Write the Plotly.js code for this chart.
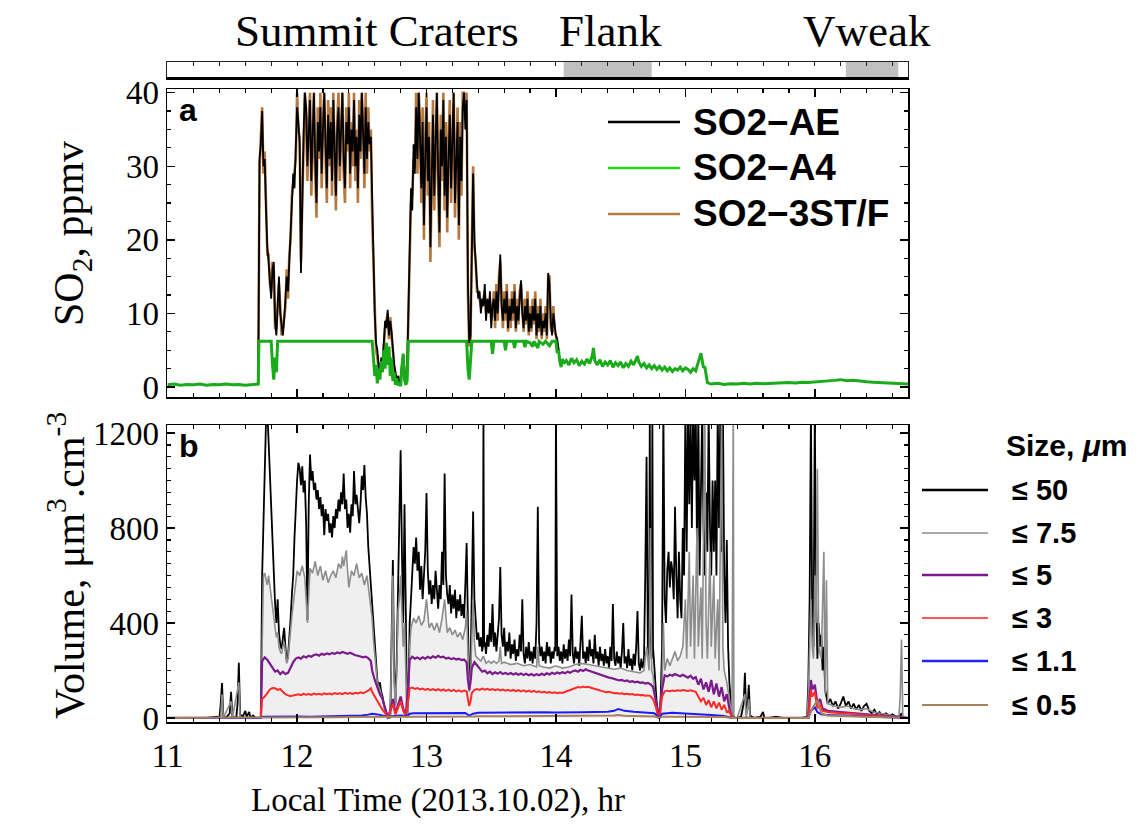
<!DOCTYPE html>
<html><head><meta charset="utf-8">
<script src="https://cdn.plot.ly/plotly-3.0.1.min.js"></script>
<style>html,body{margin:0;padding:0;background:#fff}#chart{width:1141px;height:838px}</style>
</head><body><div id="chart"></div>
<script>
// ---------- Panel a: SO2 (ppmv) ----------
const so2Names = ["SO2\u2212AE", "SO2\u2212A4", "SO2\u22123ST/F"];
const so2Time = [
11.70,11.71,11.72,11.73,11.74,11.75,11.76,11.77,11.78,11.79,
11.80,11.81,11.82,11.83,11.84,11.85,11.86,11.87,11.88,11.89,
11.90,11.91,11.92,11.93,11.94,11.95,11.96,11.97,11.98,11.99,
12.00,12.01,12.02,12.03,12.04,12.05,12.06,12.07,12.08,12.09,
12.10,12.11,12.12,12.13,12.14,12.15,12.16,12.17,12.18,12.19,
12.20,12.21,12.22,12.23,12.24,12.25,12.26,12.27,12.28,12.29,
12.30,12.31,12.32,12.33,12.34,12.35,12.36,12.37,12.38,12.39,
12.40,12.41,12.42,12.43,12.44,12.45,12.46,12.47,12.48,12.49,
12.50,12.51,12.52,12.53,12.54,12.55,12.56,12.57,12.58,12.59,
12.60,12.61,12.62,12.63,12.64,12.65,12.66,12.67,12.68,12.69,
12.70,12.71,12.72,12.73,12.74,12.75,12.76,12.77,12.78,12.79,
12.80,12.81,12.82,12.83,12.84,12.85,12.86,12.87,12.88,12.89,
12.90,12.91,12.92,12.93,12.94,12.95,12.96,12.97,12.98,12.99,
13.00,13.01,13.02,13.03,13.04,13.05,13.06,13.07,13.08,13.09,
13.10,13.11,13.12,13.13,13.14,13.15,13.16,13.17,13.18,13.19,
13.20,13.21,13.22,13.23,13.24,13.25,13.26,13.27,13.28,13.29,
13.30,13.31,13.32,13.33,13.34,13.35,13.36,13.37,13.38,13.39,
13.40,13.41,13.42,13.43,13.44,13.45,13.46,13.47,13.48,13.49,
13.50,13.51,13.52,13.53,13.54,13.55,13.56,13.57,13.58,13.59,
13.60,13.61,13.62,13.63,13.64,13.65,13.66,13.67,13.68,13.69,
13.70,13.71,13.72,13.73,13.74,13.75,13.76,13.77,13.78,13.79,
13.80,13.81,13.82,13.83,13.84,13.85,13.86,13.87,13.88,13.89,
13.90,13.91,13.92,13.93,13.94,13.95,13.96,13.97,13.98,13.99,
14.00,14.01,14.02];
const so2AE = [
0.5,31,33,37.5,30,31,24,19,17,15,
12,16,17,9,7,11,15,10,8,7,
9,12,15,13,17,21,24,29,27,32,
38,36,33,15.5,27,34,40,38,30,35,
39,28,33,40,31,25,36,32,38,29,
35,40,33,27,37,31,36,28,39,33,
26,35,38,30,34,40,31,27,36,33,
38,29,35,32,39,30,34,27,37,32,
40,35,29,38,31,36,33,34,25,18,
10,6,5,3,2,4,3,6,9,8,
10.5,7,9,7.5,5,3,2,1,1.5,0.5,
1,3,4.5,2,1,2,10,19,27,24,
33,29,38,31,40,34,27,36,22,31,
38,28,34,19,30,37,26,33,40,29,
21,35,30,39,26,34,23,31,37,27,
33,40,25,30,36,22,34,28,38,40,
35,39,14,6,7,18,29,20,16,14,
12,13,10,12,11,14,9,12,10,13,
8,11,12,9,13,10,14,18,11,9,
12,10,13,8,11,9,12,10,13,8,
11,9,12,14.5,10,8,11,9,12,7.5,
10,8,11,9,12,7,10,8,11,7,
9,8,10,7,15.5,14,9,7,10,8,
7,6.5,5];
const so2ST = [
0.5,30,34,38,29,32,25,18,18,14,
13,17,16,8,8,12,14,11,7,8,
10,11,16,12,18,20,26,28,29,31,
40,35,34,17,25,35,40,36,28,37,
40,26,34,40,29,23,38,31,40,27,
36,40,31,25,39,30,38,26,40,32,
24,36,40,28,35,40,29,25,38,32,
40,27,36,30,40,28,35,25,39,31,
40,36,27,40,29,38,32,35,23,17,
9,5,4,2.5,2,3.5,3,5.5,8,9,
10,6.5,9.5,7,4.5,3,1.5,1,1.5,0.5,
1,2.5,4,2,1,2,9,20,25,26,
31,30,40,29,40,36,25,38,20,33,
40,26,36,17,31,39,24,35,40,27,
19,37,28,40,24,36,21,33,39,25,
35,40,23,32,38,20,36,26,40,40,
37,40,13,5.5,6.5,19,30,19,17,13,
13,12,11,11,12,13,10,11,11,12,
9,10,13,8,14,9,15,17,12,8,
13,9,14,7.5,12,8,13,9,14,7.5,
12,8.5,13,14,11,7.5,12,8.5,13,7,
11,7.5,12,8.5,13,6.5,11,7.5,12,6.5,
10,7.5,11,6.5,15,15,8,7.5,11,7.5,
7,6,5];
const a4Time = [
11.00,11.05,11.10,11.15,11.20,11.25,11.30,11.35,11.40,11.45,
11.50,11.55,11.60,11.65,11.70,11.705,11.80,11.81,11.82,11.83,
11.84,11.85,12.58,12.59,12.60,12.61,12.62,12.63,12.64,12.65,
12.66,12.67,12.68,12.69,12.70,12.71,12.72,12.73,12.74,12.75,
12.76,12.77,12.78,12.79,12.80,12.81,12.82,12.83,12.84,12.85,
12.86,13.31,13.32,13.33,13.34,13.35,13.50,13.51,13.52,13.60,
13.61,13.62,13.67,13.68,13.69,13.75,13.76,13.77,13.80,13.82,
13.83,13.86,13.87,13.90,13.92,13.95,13.97,14.00,14.01,14.02,
14.03,14.04,14.05,14.06,14.08,14.10,14.12,14.14,14.16,14.18,
14.20,14.22,14.24,14.26,14.28,14.29,14.30,14.32,14.34,14.36,
14.38,14.40,14.42,14.44,14.46,14.48,14.50,14.52,14.54,14.56,
14.58,14.60,14.62,14.63,14.64,14.66,14.68,14.70,14.72,14.74,
14.76,14.78,14.80,14.82,14.84,14.86,14.88,14.90,14.92,14.94,
14.96,14.98,15.00,15.02,15.04,15.06,15.08,15.10,15.11,15.12,
15.13,15.14,15.15,15.16,15.17,15.20,15.25,15.30,15.35,15.40,
15.45,15.50,15.55,15.60,15.65,15.70,15.75,15.80,15.85,15.90,
15.95,16.00,16.05,16.10,16.15,16.20,16.25,16.30,16.35,16.40,
16.45,16.50,16.55,16.60,16.65,16.70,16.72];
const a4Values = [
0.3,0.4,0.25,0.35,0.3,0.4,0.25,0.35,0.3,0.4,
0.3,0.35,0.25,0.35,0.4,6.2,6.2,3,1,4,
2,6.2,6.2,4,1.5,3,0.5,2.5,1,3.5,
2,5,2.5,6,3,5.5,1.5,4,0.8,2,
0.3,1.2,0.2,0.6,0.1,2.8,4.5,1.0,0.3,0.8,
6.2,6.2,2.5,1.0,3.5,6.2,6.2,4.5,6.2,6.2,
5.0,6.2,6.2,5.3,6.2,6.2,5.4,6.2,6.0,5.5,
6.2,5.3,6.2,5.8,6.2,5.6,6.2,6.2,4.6,5.0,
3.5,2.7,3.8,3.2,3.6,3.0,3.9,3.3,3.7,2.9,
3.5,3.1,3.8,3.2,4.2,5.3,3.6,3.0,3.7,2.8,
3.4,3.0,3.6,2.7,3.3,2.9,3.4,2.6,3.2,2.8,
3.5,3.0,3.8,4.2,3.4,2.8,3.2,2.6,3.0,2.5,
2.9,2.4,2.8,2.3,2.7,2.2,2.6,2.1,2.5,2.3,
2.7,2.2,2.6,2.4,2.0,2.5,2.2,3.2,4.0,4.6,
3.4,2.6,2.8,1.5,0.6,0.4,0.5,0.35,0.45,0.4,
0.5,0.4,0.5,0.45,0.5,0.55,0.5,0.6,0.55,0.65,
0.6,0.7,0.75,0.8,0.9,1.0,0.85,0.9,0.75,0.7,
0.65,0.6,0.55,0.5,0.45,0.4,0.4];

// ---------- Panel b: aerosol volume (um3/cm3) ----------
const sizeNames = ["\u2264 50", "\u2264 7.5", "\u2264 5", "\u2264 3", "\u2264 1.1", "\u2264 0.5"];
const vol50Time = [
11.00,11.10,11.20,11.30,11.38,11.40,11.41,11.42,11.43,11.45,
11.48,11.49,11.50,11.53,11.54,11.55,11.56,11.58,11.60,11.61,
11.63,11.64,11.66,11.68,11.70,11.72,11.73,11.74,11.75,11.76,
11.77,11.78,11.79,11.80,11.81,11.82,11.83,11.84,11.85,11.86,
11.87,11.88,11.89,11.90,11.91,11.92,11.93,11.94,11.95,11.96,
11.97,11.98,11.99,12.00,12.01,12.02,12.03,12.04,12.05,12.06,
12.07,12.08,12.09,12.10,12.11,12.12,12.13,12.14,12.15,12.16,
12.17,12.18,12.19,12.20,12.21,12.22,12.23,12.24,12.25,12.26,
12.27,12.28,12.29,12.30,12.31,12.32,12.33,12.34,12.35,12.36,
12.37,12.38,12.39,12.40,12.41,12.42,12.43,12.44,12.45,12.46,
12.47,12.48,12.49,12.50,12.51,12.52,12.53,12.54,12.55,12.56,
12.57,12.58,12.59,12.60,12.61,12.62,12.63,12.64,12.65,12.66,
12.67,12.68,12.69,12.70,12.71,12.72,12.73,12.74,12.75,12.76,
12.77,12.78,12.79,12.80,12.81,12.82,12.83,12.84,12.85,12.86,
12.87,12.88,12.89,12.90,12.91,12.92,12.93,12.94,12.95,12.96,
12.97,12.98,12.99,13.00,13.01,13.02,13.03,13.04,13.05,13.06,
13.07,13.08,13.09,13.10,13.11,13.12,13.13,13.14,13.15,13.16,
13.17,13.18,13.19,13.20,13.21,13.22,13.23,13.24,13.25,13.26,
13.27,13.28,13.29,13.30,13.31,13.32,13.33,13.34,13.35,13.36,
13.37,13.38,13.39,13.40,13.41,13.42,13.43,13.435,13.44,13.445,
13.45,13.46,13.47,13.48,13.49,13.50,13.51,13.52,13.53,13.54,
13.55,13.56,13.57,13.58,13.59,13.60,13.61,13.62,13.63,13.64,
13.65,13.66,13.67,13.68,13.69,13.70,13.71,13.72,13.73,13.74,
13.75,13.76,13.77,13.78,13.79,13.80,13.81,13.82,13.83,13.84,
13.85,13.86,13.87,13.88,13.89,13.90,13.91,13.92,13.93,13.94,
13.95,13.96,13.97,13.98,13.99,13.995,14.00,14.005,14.01,14.02,
14.03,14.04,14.05,14.06,14.07,14.08,14.09,14.10,14.11,14.12,
14.13,14.14,14.15,14.16,14.17,14.18,14.19,14.20,14.21,14.22,
14.23,14.24,14.25,14.26,14.27,14.28,14.29,14.30,14.31,14.32,
14.33,14.34,14.35,14.36,14.37,14.38,14.39,14.40,14.41,14.42,
14.43,14.44,14.45,14.46,14.47,14.48,14.49,14.50,14.51,14.52,
14.53,14.54,14.55,14.56,14.57,14.58,14.59,14.60,14.61,14.62,
14.63,14.64,14.65,14.66,14.67,14.68,14.69,14.70,14.71,14.72,
14.725,14.73,14.74,14.745,14.75,14.76,14.77,14.78,14.79,14.80,
14.81,14.82,14.83,14.84,14.85,14.86,14.87,14.88,14.89,14.90,
14.91,14.92,14.93,14.94,14.95,14.96,14.97,14.98,14.99,15.00,
15.01,15.02,15.03,15.04,15.05,15.06,15.07,15.08,15.09,15.10,
15.11,15.12,15.13,15.14,15.15,15.16,15.17,15.18,15.19,15.20,
15.21,15.22,15.23,15.24,15.25,15.26,15.27,15.28,15.29,15.30,
15.31,15.32,15.33,15.34,15.35,15.36,15.37,15.38,15.40,15.43,
15.45,15.46,15.47,15.48,15.49,15.50,15.53,15.58,15.60,15.61,
15.65,15.70,15.75,15.80,15.85,15.90,15.94,15.95,15.96,15.97,
15.98,15.99,16.00,16.01,16.02,16.03,16.04,16.05,16.06,16.07,
16.08,16.09,16.10,16.12,16.14,16.16,16.18,16.20,16.22,16.24,
16.26,16.28,16.30,16.32,16.34,16.36,16.38,16.40,16.42,16.44,
16.46,16.48,16.50,16.52,16.55,16.58,16.60,16.63,16.66,16.67,
16.68,16.70,16.72];
const vol50 = [
0,0,2,0,5,0,60,147,10,0,
20,110,5,0,60,232,15,5,30,5,
25,0,10,0,0,5,600,800,1000,1250,
1300,1150,1000,850,740,600,480,400,500,360,
310,290,350,380,300,240,260,330,420,520,
600,760,900,1000,1075,1050,980,1060,950,1000,
820,413,900,1110,1000,1040,960,990,920,960,
880,930,850,900,770,880,830,860,780,820,
760,850,800,880,840,920,870,950,900,1030,
880,920,800,860,780,900,850,1040,900,940,
880,820,900,1020,960,1065,930,860,720,640,
560,500,380,300,220,160,130,150,110,92,
60,30,10,0,5,0,300,665,200,60,
250,600,900,1128,700,400,900,300,0,100,
400,500,600,720,650,760,620,700,540,640,
500,580,700,947,620,520,580,480,560,500,
620,540,460,560,500,700,560,1030,600,520,
480,560,440,520,460,540,420,500,450,520,
430,480,420,560,737,400,130,200,500,870,
500,380,330,360,300,340,280,300,1300,300,
320,270,350,300,400,320,480,300,360,280,
340,420,636,350,300,380,260,320,280,360,
250,310,270,330,240,290,260,350,280,500,
270,230,300,250,320,240,280,230,300,250,
400,890,320,260,300,240,280,230,320,260,
300,230,280,250,300,280,1300,280,260,300,
240,280,230,310,250,290,240,330,260,520,
270,230,300,250,280,220,310,430,250,280,
230,300,240,330,260,290,230,350,250,280,
220,300,240,270,220,290,230,260,210,300,
240,480,250,220,280,230,260,210,280,400,
230,260,210,290,220,250,200,270,220,300,
450,230,200,250,210,240,600,1100,300,250,
1300,400,250,1300,300,200,100,50,20,0,
100,300,1300,500,400,620,700,550,660,620,
500,890,600,420,700,500,420,800,600,1300,
700,1300,900,1300,800,1300,1000,1300,700,1300,
600,900,1300,800,600,950,700,1300,800,600,
1000,700,1000,600,1300,800,1300,700,1300,600,
400,750,300,150,60,0,10,0,0,5,
60,190,20,40,140,10,0,5,25,0,
0,5,0,0,3,0,5,150,500,1300,
400,300,1300,500,250,400,300,350,200,300,
120,90,60,80,50,70,40,60,90,50,
70,40,60,35,55,30,50,60,30,20,
35,15,25,10,20,8,15,5,10,20,
5,0,0];
const vol75Time = [
11.00,11.41,11.42,11.43,11.49,11.50,11.55,11.56,11.72,11.73,
11.74,11.75,11.76,11.77,11.78,11.79,11.80,11.81,11.82,11.83,
11.84,11.85,11.86,11.87,11.88,11.89,11.90,11.91,11.92,11.93,
11.94,11.95,11.96,11.97,11.98,11.99,12.00,12.02,12.04,12.06,
12.08,12.10,12.12,12.14,12.16,12.18,12.20,12.22,12.24,12.26,
12.28,12.30,12.32,12.34,12.35,12.36,12.38,12.39,12.40,12.42,
12.44,12.46,12.48,12.50,12.52,12.54,12.55,12.56,12.57,12.58,
12.59,12.60,12.61,12.62,12.64,12.66,12.68,12.70,12.72,12.73,
12.74,12.75,12.76,12.77,12.78,12.79,12.80,12.81,12.82,12.83,
12.84,12.85,12.86,12.87,12.88,12.90,12.92,12.94,12.96,12.98,
13.00,13.02,13.04,13.06,13.08,13.10,13.12,13.14,13.16,13.18,
13.20,13.22,13.24,13.26,13.28,13.30,13.31,13.32,13.33,13.34,
13.35,13.36,13.37,13.38,13.40,13.42,13.44,13.46,13.48,13.50,
13.52,13.54,13.56,13.57,13.58,13.60,13.65,13.70,13.75,13.80,
13.85,13.86,13.87,13.90,13.95,14.00,14.05,14.10,14.15,14.20,
14.25,14.30,14.35,14.40,14.45,14.50,14.55,14.60,14.65,14.68,
14.70,14.72,14.73,14.74,14.75,14.76,14.77,14.78,14.80,14.81,
14.82,14.83,14.84,14.86,14.88,14.90,14.92,14.94,14.96,14.98,
15.00,15.01,15.03,15.04,15.06,15.07,15.09,15.10,15.12,15.13,
15.15,15.16,15.17,15.19,15.20,15.22,15.23,15.25,15.26,15.28,
15.29,15.30,15.32,15.34,15.35,15.36,15.37,15.375,15.40,15.46,
15.47,15.49,15.50,15.94,15.95,15.96,15.97,15.98,15.99,16.00,
16.01,16.02,16.03,16.05,16.07,16.08,16.09,16.10,16.15,16.20,
16.25,16.30,16.35,16.40,16.45,16.50,16.55,16.60,16.65,16.66,
16.67,16.68,16.70,16.72];
const vol75 = [
0,0,100,0,70,0,150,0,0,400,
600,610,580,560,600,560,520,470,420,380,
340,360,300,280,270,300,320,280,230,250,
300,370,430,480,540,580,620,600,640,590,
400,630,610,660,600,640,580,620,570,600,
620,590,650,630,680,640,706,620,550,620,
600,650,590,610,560,600,560,500,460,420,
330,260,200,150,120,80,25,0,0,250,
600,150,50,200,450,500,600,450,300,400,
200,0,80,300,380,420,400,430,390,410,
500,380,400,370,400,360,420,500,360,380,
350,370,340,360,330,380,450,280,110,170,
350,500,320,260,250,240,260,230,240,230,
240,230,240,300,230,235,225,230,220,225,
215,300,220,215,210,220,210,215,225,230,
225,220,215,210,205,210,200,195,190,200,
300,200,800,200,180,120,60,20,0,60,
150,400,200,250,220,250,280,240,260,300,
500,250,700,300,600,250,800,300,550,250,
1300,400,250,700,300,600,250,500,200,1300,
300,200,150,80,30,0,1300,0,0,100,
0,80,0,0,100,300,500,300,250,600,
400,1050,300,250,700,100,580,60,50,45,
50,40,35,40,25,20,15,10,5,100,
330,5,0,0];
const volMidTime = [
11.00,11.72,11.73,11.75,11.77,11.79,11.81,11.83,11.85,11.87,
11.89,11.91,11.93,11.95,11.97,11.99,12.01,12.03,12.05,12.07,
12.09,12.11,12.13,12.15,12.17,12.19,12.21,12.23,12.25,12.27,
12.29,12.31,12.33,12.35,12.37,12.39,12.41,12.43,12.45,12.47,
12.49,12.51,12.53,12.55,12.57,12.58,12.60,12.62,12.64,12.66,
12.68,12.70,12.72,12.74,12.76,12.78,12.80,12.82,12.84,12.86,
12.87,12.89,12.91,12.93,12.95,12.97,12.99,13.01,13.03,13.05,
13.07,13.09,13.11,13.13,13.15,13.17,13.19,13.21,13.23,13.25,
13.27,13.29,13.31,13.32,13.33,13.34,13.35,13.37,13.39,13.41,
13.43,13.45,13.47,13.49,13.51,13.53,13.55,13.57,13.59,13.61,
13.63,13.65,13.67,13.69,13.71,13.73,13.75,13.77,13.79,13.81,
13.83,13.85,13.87,13.89,13.91,13.93,13.95,13.97,13.99,14.01,
14.03,14.05,14.07,14.09,14.11,14.13,14.15,14.17,14.19,14.21,
14.23,14.25,14.27,14.29,14.31,14.33,14.35,14.37,14.39,14.41,
14.43,14.45,14.47,14.49,14.51,14.53,14.55,14.57,14.59,14.61,
14.63,14.65,14.67,14.69,14.71,14.73,14.75,14.77,14.79,14.80,
14.82,14.84,14.86,14.88,14.90,14.92,14.94,14.96,14.98,15.00,
15.02,15.04,15.06,15.08,15.10,15.12,15.14,15.16,15.18,15.20,
15.22,15.24,15.26,15.28,15.30,15.32,15.34,15.36,15.95,15.96,
15.97,15.98,16.00,16.02,16.04,16.06,16.10,16.20,16.30,16.40,
16.50,16.60,16.72];
const vol5 = [
0,0,240,255,245,230,210,195,200,185,
195,185,190,215,235,250,255,250,260,255,
262,258,265,268,262,270,266,272,268,274,
270,276,272,278,273,270,275,268,264,262,
258,255,258,252,240,200,160,130,100,80,
40,5,30,80,20,60,90,40,10,150,
245,258,250,255,248,256,250,258,252,260,
254,262,255,258,250,254,248,252,246,250,
244,246,235,160,118,150,210,235,220,205,
195,200,188,195,185,192,186,193,185,190,
184,189,183,188,182,187,181,186,180,185,
179,184,180,186,181,188,183,190,185,192,
187,193,188,195,190,197,200,195,203,198,
205,200,196,192,188,184,180,176,172,170,
168,165,160,158,160,155,158,152,155,150,
153,148,150,145,148,142,130,80,20,0,
120,180,175,182,178,185,180,176,182,175,
170,178,165,172,140,165,120,150,110,160,
100,145,90,130,70,100,40,0,0,80,
160,120,140,60,80,40,30,25,20,15,
10,5,0];
const vol3 = [
0,0,80,90,105,120,126,125,118,122,
110,100,95,92,95,98,100,96,102,98,
101,97,103,99,102,98,104,100,103,99,
105,101,104,100,106,102,105,101,106,103,
108,104,110,115,125,110,90,70,50,35,
20,5,30,60,15,40,70,30,10,80,
125,128,122,126,120,124,118,123,117,122,
116,121,115,120,114,119,113,118,112,116,
111,115,112,80,50,70,105,118,122,118,
124,119,123,118,122,117,121,116,120,115,
119,114,118,113,117,112,116,111,115,110,
114,109,112,107,110,106,109,105,108,104,
107,105,110,114,118,122,126,130,128,132,
129,131,127,125,121,118,114,112,108,110,
106,104,105,102,104,100,102,99,101,97,
99,96,97,94,95,92,80,50,10,0,
90,112,115,113,116,114,117,115,118,116,
114,117,112,110,90,70,85,55,75,45,
70,40,65,35,55,25,30,0,0,60,
120,90,110,40,60,30,25,20,18,12,
8,4,0];
const volFineTime = [
11.00,11.72,11.73,11.80,11.90,12.00,12.10,12.20,12.30,12.40,
12.50,12.55,12.58,12.62,12.66,12.70,12.75,12.80,12.85,12.87,
12.90,13.00,13.10,13.20,13.30,13.33,13.36,13.40,13.50,13.60,
13.70,13.80,13.90,14.00,14.10,14.20,14.30,14.40,14.45,14.48,
14.50,14.53,14.60,14.70,14.76,14.80,14.82,14.90,15.00,15.10,
15.20,15.30,15.36,15.95,15.97,16.00,16.02,16.05,16.10,16.20,
16.30,16.40,16.50,16.60,16.72];
const vol11 = [
0,0,5,6,5,6,5,6,7,8,
10,14,18,15,10,5,8,10,8,18,
20,21,20,22,21,10,18,22,23,22,
24,23,24,23,22,24,25,26,30,38,
35,30,26,24,20,0,18,22,20,16,
12,8,0,0,30,45,25,15,12,10,
8,6,4,2,0];
const vol05 = [
0,0,2,2,3,3,3,3,3,4,
4,4,4,3,3,3,3,3,3,4,
5,5,5,6,6,5,6,7,7,7,
8,8,8,7,7,8,8,8,10,12,
10,9,8,7,6,0,5,5,5,5,
5,4,0,0,30,60,75,20,10,8,
6,5,3,2,0];

// ---------- Top bar: source phases ----------
const phaseNames = ["Summit Craters", "Flank", "Vweak"];
const phaseLabelHour = [12.62, 14.42, 16.40];
const shadedStart = [14.06, 16.24];
const shadedEnd = [14.74, 16.645];
const xTitle = "Local Time (2013.10.02), hr";
const yTitleA = "SO<sub>2</sub>, ppmv";
const yTitleB = "Volume, \u03bcm<sup>3</sup>.cm<sup>-3</sup>";

// ---------- styling ----------
const W = 1141, H = 838;
const px = x => x / W;
const py = y => 1 - y / H;
const SERIF = "Liberation Serif, Times New Roman, serif";
const SANS = "Liberation Sans, Arial, sans-serif";
const so2Colors = ["#000000", "#1aab1a", "#b57a42"];
const so2LegendColors = ["#000000", "#22dd22", "#b57a42"];
const sizeColors = ["#000000", "#8c8c8c", "#7b1a8c", "#ff2a2a", "#1a1aff", "#a8805a"];
const sizeLegendColors = ["#000000", "#aaaaaa", "#7b1a8c", "#ff5555", "#2222ff", "#a8805a"];

const traces = [
  {x: so2Time, y: so2ST, xaxis: "x2", yaxis: "y2", mode: "lines", line: {color: so2Colors[2], width: 2.6}, name: so2Names[2]},
  {x: so2Time, y: so2AE, xaxis: "x2", yaxis: "y2", mode: "lines", line: {color: so2Colors[0], width: 1.8}, name: so2Names[0]},
  {x: a4Time, y: a4Values, xaxis: "x2", yaxis: "y2", mode: "lines", line: {color: so2Colors[1], width: 3}, name: so2Names[1]},
  {x: vol75Time, y: vol75, xaxis: "x", yaxis: "y", mode: "lines", fill: "tozeroy", fillcolor: "#efefef", line: {width: 0, color: "rgba(0,0,0,0)"}, name: "fill", hoverinfo: "skip"},
  {x: vol50Time, y: vol50, xaxis: "x", yaxis: "y", mode: "lines", line: {color: sizeColors[0], width: 1.8}, name: sizeNames[0]},
  {x: vol75Time, y: vol75, xaxis: "x", yaxis: "y", mode: "lines", line: {color: sizeColors[1], width: 1.6}, name: sizeNames[1]},
  {x: volMidTime, y: vol5, xaxis: "x", yaxis: "y", mode: "lines", line: {color: sizeColors[2], width: 2.2}, name: sizeNames[2]},
  {x: volMidTime, y: vol3, xaxis: "x", yaxis: "y", mode: "lines", line: {color: sizeColors[3], width: 2}, name: sizeNames[3]},
  {x: volFineTime, y: vol11, xaxis: "x", yaxis: "y", mode: "lines", line: {color: sizeColors[4], width: 2}, name: sizeNames[4]},
  {x: volFineTime, y: vol05, xaxis: "x", yaxis: "y", mode: "lines", line: {color: sizeColors[5], width: 2}, name: sizeNames[5]}
];

const xDomain = [px(167), px(908)];
const xRange = [10.995, 16.72];
const tickStyle = {
  showline: true, linecolor: "#000", linewidth: 1.5, mirror: "allticks",
  ticks: "inside", tickcolor: "#000", tickwidth: 1.5, ticklen: 8,
  showgrid: false, zeroline: false
};
const tickFont = {family: SERIF, size: 33, color: "#000"};

const layout = {
  width: W, height: H,
  margin: {l: 0, r: 0, t: 0, b: 0},
  paper_bgcolor: "#fff", plot_bgcolor: "#fff",
  showlegend: false,
  xaxis: Object.assign({}, tickStyle, {
    domain: xDomain, range: xRange, anchor: "y", dtick: 1, tick0: 0,
    minor: {dtick: 0.2, ticks: "inside", ticklen: 4, tickcolor: "#000", tickwidth: 1.2},
    tickfont: tickFont, ticklabelstandoff: 4
  }),
  xaxis2: Object.assign({}, tickStyle, {
    domain: xDomain, range: xRange, anchor: "y2", matches: "x", dtick: 1, tick0: 0,
    minor: {dtick: 0.2, ticks: "inside", ticklen: 4, tickcolor: "#000", tickwidth: 1.2},
    showticklabels: false
  }),
  xaxis3: {
    domain: xDomain, range: xRange, anchor: "y3", matches: "x", side: "top",
    showline: true, linecolor: "#222", linewidth: 1.2, mirror: true,
    ticks: "inside", ticklen: 4, tickwidth: 1, tickcolor: "#222", dtick: 0.2, tick0: 0,
    showticklabels: false, showgrid: false, zeroline: false
  },
  yaxis: Object.assign({}, tickStyle, {
    domain: [py(722), py(425)], range: [-17, 1234], anchor: "x", dtick: 400, tick0: 0,
    minor: {dtick: 50, ticks: "inside", ticklen: 4, tickcolor: "#000", tickwidth: 1.2},
    tickfont: tickFont, ticklabelstandoff: 0
  }),
  yaxis2: Object.assign({}, tickStyle, {
    domain: [py(397), py(89)], range: [-1.36, 40.5], anchor: "x2", dtick: 10, tick0: 0,
    minor: {dtick: 2.5, ticks: "inside", ticklen: 4, tickcolor: "#000", tickwidth: 1.2},
    tickfont: tickFont, ticklabelstandoff: 0
  }),
  yaxis3: {
    domain: [py(78), py(62)], range: [0, 1], anchor: "x3",
    showline: true, linecolor: "#222", linewidth: 1.2, mirror: true,
    ticks: "", showticklabels: false, showgrid: false, zeroline: false
  },
  shapes: [],
  annotations: []
};

// axis titles
layout.annotations.push({text: xTitle, xref: "paper", yref: "paper", x: px(438), y: py(800), xanchor: "center", yanchor: "middle",
  showarrow: false, font: {family: SERIF, size: 33, color: "#000"}});
layout.annotations.push({text: yTitleA, xref: "paper", yref: "paper", x: px(72), y: py(234), xanchor: "center", yanchor: "middle",
  textangle: -90, showarrow: false, font: {family: SERIF, size: 42, color: "#000"}});
layout.annotations.push({text: yTitleB, xref: "paper", yref: "paper", x: px(66), y: py(566), xanchor: "center", yanchor: "middle",
  textangle: -90, showarrow: false, font: {family: SERIF, size: 42, color: "#000"}});

// shaded phases on the top bar
for (let i = 0; i < shadedStart.length; i++) {
  layout.shapes.push({type: "rect", xref: "x3", yref: "y3", x0: shadedStart[i], x1: shadedEnd[i], y0: 0, y1: 1,
    fillcolor: "#c0c0c0", line: {width: 0}, layer: "below"});
}
layout.shapes.push({type: "line", xref: "paper", yref: "paper", x0: px(166), x1: px(909), y0: py(78.5), y1: py(78.5),
  line: {color: "#000", width: 3}});
for (let i = 0; i < phaseNames.length; i++) {
  layout.annotations.push({text: phaseNames[i], xref: "x3", yref: "paper", x: phaseLabelHour[i], y: py(31),
    xanchor: "center", yanchor: "middle", showarrow: false, font: {family: SERIF, size: 45, color: "#000"}});
}

// panel labels
layout.annotations.push({text: "<b>a</b>", xref: "paper", yref: "paper", x: px(177), y: py(110), xanchor: "left", yanchor: "middle",
  showarrow: false, font: {family: SANS, size: 32, color: "#000"}});
layout.annotations.push({text: "<b>b</b>", xref: "paper", yref: "paper", x: px(177), y: py(446), xanchor: "left", yanchor: "middle",
  showarrow: false, font: {family: SANS, size: 32, color: "#000"}});

// legend for panel a
const legA_Y = [122, 168, 214];
for (let i = 0; i < so2Names.length; i++) {
  layout.shapes.push({type: "line", xref: "paper", yref: "paper", x0: px(608), x1: px(680), y0: py(legA_Y[i]), y1: py(legA_Y[i]),
    line: {color: so2LegendColors[i], width: 2.5}});
  layout.annotations.push({text: "<b>" + so2Names[i] + "</b>", xref: "paper", yref: "paper", x: px(691), y: py(legA_Y[i]),
    xanchor: "left", yanchor: "middle", showarrow: false, font: {family: SANS, size: 37, color: "#000"}});
}

// legend for panel b
layout.annotations.push({text: "<b>Size, <i>\u03bc</i>m</b>", xref: "paper", yref: "paper", x: px(1066), y: py(446),
  xanchor: "center", yanchor: "middle", showarrow: false, font: {family: SANS, size: 30, color: "#000"}});
const legB_Y = [490, 533, 575, 618, 661, 705];
for (let i = 0; i < sizeNames.length; i++) {
  layout.shapes.push({type: "line", xref: "paper", yref: "paper", x0: px(922), x1: px(988), y0: py(legB_Y[i]), y1: py(legB_Y[i]),
    line: {color: sizeLegendColors[i], width: i === 0 || i === 2 || i === 4 ? 2.5 : 2}});
  layout.annotations.push({text: "<b>" + sizeNames[i] + "</b>", xref: "paper", yref: "paper", x: px(1010), y: py(legB_Y[i]),
    xanchor: "left", yanchor: "middle", showarrow: false, font: {family: SANS, size: 29, color: "#000"}});
}

Plotly.newPlot("chart", traces, layout, {staticPlot: true, displayModeBar: false});
</script></body></html>
